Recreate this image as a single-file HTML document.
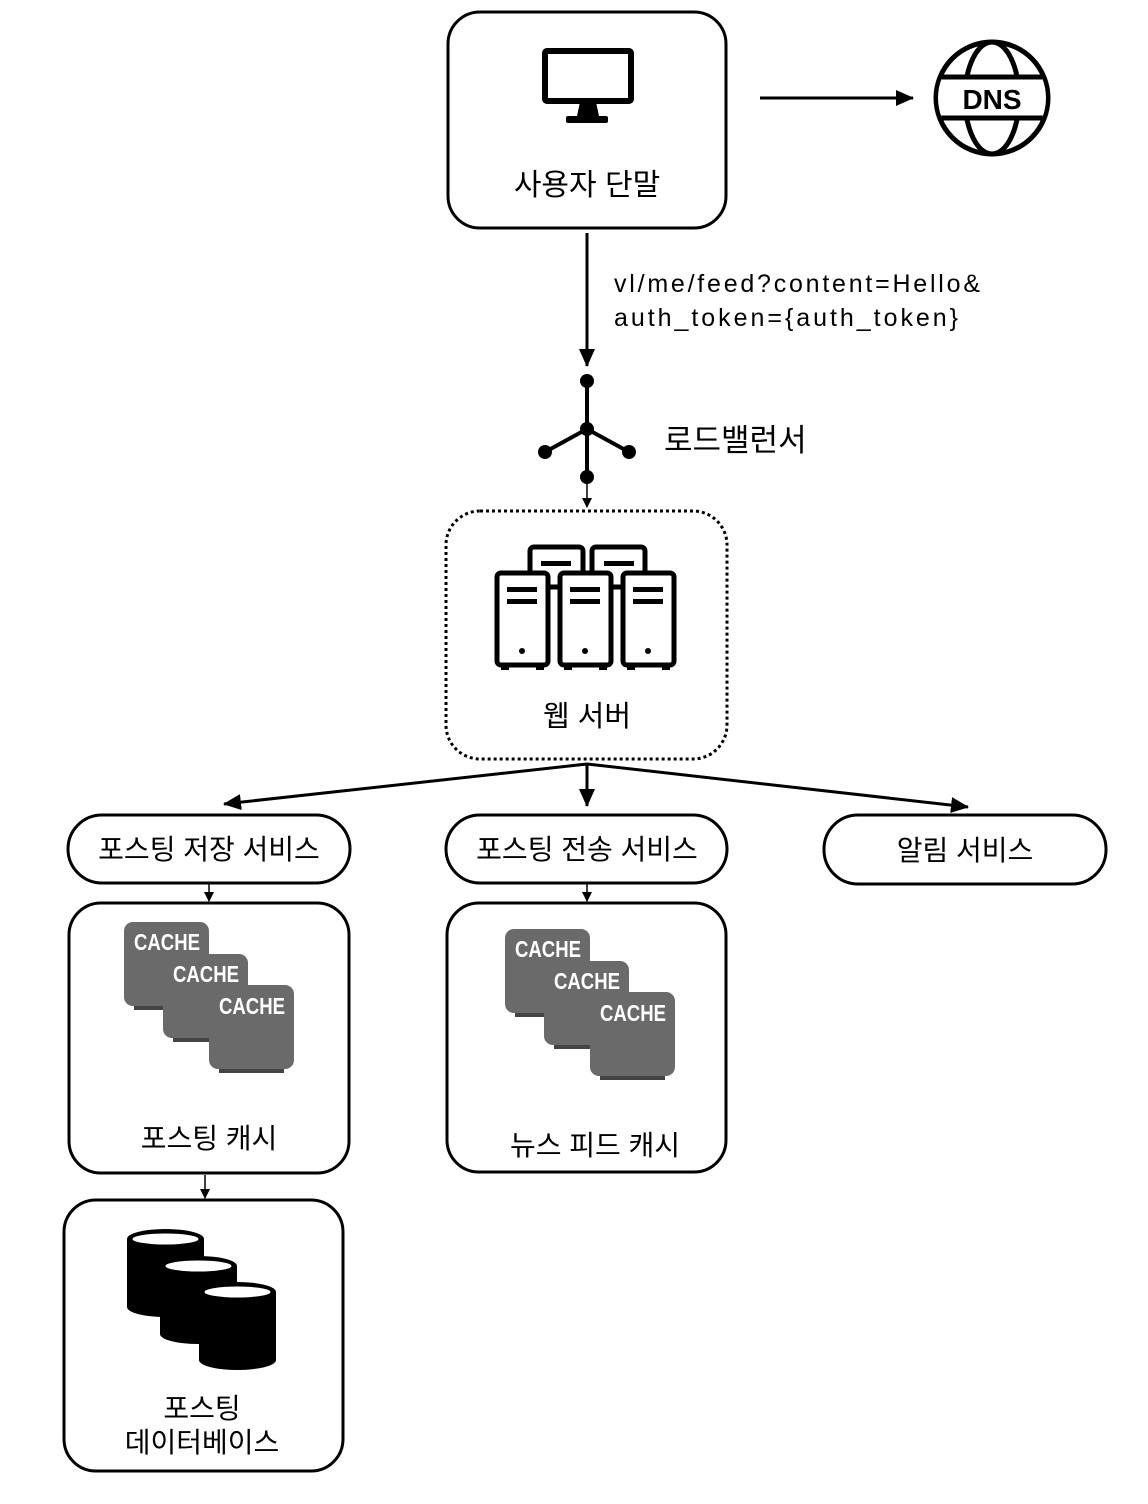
<!DOCTYPE html>
<html><head><meta charset="utf-8"><style>
html,body{margin:0;padding:0;background:#fff}
svg{display:block}
text{font-family:"Liberation Sans","Noto Sans CJK KR",sans-serif;fill:#000}
.cc{font-family:"Liberation Sans",sans-serif;font-size:23px;font-weight:bold;fill:#fff}
</style></head><body>
<svg width="1148" height="1504" viewBox="0 0 1148 1504" xmlns="http://www.w3.org/2000/svg">
<defs>
<marker id="ah" markerWidth="10" markerHeight="10" refX="9" refY="5" orient="auto" markerUnits="userSpaceOnUse"><path d="M0,0 L10,5 L0,10 z" fill="#000"/></marker>
<marker id="ahb" markerWidth="18" markerHeight="16" refX="17" refY="8" orient="auto" markerUnits="userSpaceOnUse"><path d="M0,0 L18,8 L0,16 z" fill="#000"/></marker>
<clipPath id="globe"><circle cx="992" cy="98" r="54"/></clipPath>
<g id="cache1">
<rect x="0" y="0" width="85" height="84" rx="9" fill="#6a6a6a"/>
<rect x="10" y="84" width="65" height="4" fill="#444"/>
</g>
<g id="caches">
<use href="#cache1" x="0" y="0"/>
<text class="cc" x="10" y="28" textLength="66" lengthAdjust="spacingAndGlyphs">CACHE</text>
<use href="#cache1" x="39" y="32"/>
<text class="cc" x="49" y="60" textLength="66" lengthAdjust="spacingAndGlyphs">CACHE</text>
<use href="#cache1" x="85" y="63"/>
<text class="cc" x="95" y="92" textLength="66" lengthAdjust="spacingAndGlyphs">CACHE</text>
</g>
<g id="cyl">
<rect x="0" y="9" width="77" height="68" fill="#000"/>
<ellipse cx="38.5" cy="77" rx="38.5" ry="10" fill="#000"/>
<ellipse cx="38.5" cy="9" rx="38.5" ry="10" fill="#000"/>
<ellipse cx="38.5" cy="9" rx="33" ry="5.5" fill="#fff"/>
</g>
<g id="tower">
<rect x="2" y="2" width="51" height="92" rx="4" fill="#fff" stroke="#000" stroke-width="5"/>
<rect x="12" y="16" width="30" height="5" fill="#000"/>
<rect x="12" y="28" width="30" height="5" fill="#000"/>
<circle cx="27" cy="80" r="3" fill="#000"/>
<rect x="6" y="94" width="8" height="5" fill="#000"/>
<rect x="41" y="94" width="8" height="5" fill="#000"/>
</g>
</defs>

<rect x="448" y="12" width="278" height="216" rx="32" fill="#fff" stroke="#000" stroke-width="3"/>
<rect x="545" y="51" width="86" height="50" fill="#fff" stroke="#000" stroke-width="6" rx="2"/>
<path d="M580,102 L596,102 L599,116 L577,116 z" fill="#000"/>
<rect x="566" y="116" width="42" height="7" rx="2" fill="#000"/>
<text x="587" y="195" font-size="30" text-anchor="middle">사용자 단말</text>

<line x1="760" y1="98" x2="913" y2="98" stroke="#000" stroke-width="3" marker-end="url(#ahb)"/>
<circle cx="992" cy="98" r="56" fill="#fff" stroke="#000" stroke-width="5"/>
<ellipse cx="992" cy="98" rx="27" ry="56" fill="none" stroke="#000" stroke-width="5"/>
<g clip-path="url(#globe)">
<rect x="930" y="77" width="124" height="41" fill="#fff" stroke="#000" stroke-width="5"/>
</g>
<text x="992" y="109" font-size="28" font-weight="bold" text-anchor="middle">DNS</text>

<line x1="587" y1="233" x2="587" y2="366" stroke="#000" stroke-width="3" marker-end="url(#ahb)"/>
<text x="614" y="292" font-size="25" textLength="366">vl/me/feed?content=Hello&amp;</text>
<text x="614" y="326" font-size="25" textLength="344">auth_token={auth_token}</text>

<g stroke="#000" stroke-width="4">
<line x1="587" y1="381" x2="587" y2="477"/>
<line x1="587" y1="429" x2="545" y2="452"/>
<line x1="587" y1="429" x2="629" y2="452"/>
</g>
<circle cx="587" cy="381" r="7" fill="#000"/>
<circle cx="587" cy="429" r="7" fill="#000"/>
<circle cx="545" cy="452" r="7" fill="#000"/>
<circle cx="629" cy="452" r="7" fill="#000"/>
<circle cx="587" cy="477" r="7" fill="#000"/>
<text x="664" y="451" font-size="31">로드밸런서</text>
<line x1="587" y1="484" x2="587" y2="507" stroke="#000" stroke-width="1.5" marker-end="url(#ah)"/>

<rect x="446" y="511" width="281" height="248" rx="34" fill="#fff" stroke="#000" stroke-width="3" stroke-dasharray="3,3"/>
<rect x="530" y="547" width="53" height="40" rx="4" fill="#fff" stroke="#000" stroke-width="5"/>
<rect x="592" y="547" width="53" height="40" rx="4" fill="#fff" stroke="#000" stroke-width="5"/>
<rect x="541" y="561" width="30" height="5" fill="#000"/>
<rect x="604" y="561" width="30" height="5" fill="#000"/>
<use href="#tower" x="495" y="571"/>
<use href="#tower" x="558" y="571"/>
<use href="#tower" x="621" y="571"/>
<text x="587" y="726" font-size="29" text-anchor="middle">웹 서버</text>

<g stroke="#000" stroke-width="3">
<line x1="587" y1="764" x2="587" y2="806" marker-end="url(#ahb)"/>
<line x1="587" y1="764" x2="224" y2="804" marker-end="url(#ahb)"/>
<line x1="587" y1="764" x2="968" y2="807" marker-end="url(#ahb)"/>
</g>

<rect x="68" y="815" width="282" height="68" rx="34" fill="#fff" stroke="#000" stroke-width="3"/>
<text x="209" y="859" font-size="28" text-anchor="middle">포스팅 저장 서비스</text>
<rect x="446" y="815" width="281" height="68" rx="34" fill="#fff" stroke="#000" stroke-width="3"/>
<text x="587" y="859" font-size="28" text-anchor="middle">포스팅 전송 서비스</text>
<rect x="824" y="815" width="282" height="69" rx="34" fill="#fff" stroke="#000" stroke-width="3"/>
<text x="965" y="860" font-size="28" text-anchor="middle">알림 서비스</text>

<line x1="209" y1="884" x2="209" y2="901" stroke="#000" stroke-width="1.5" marker-end="url(#ah)"/>
<line x1="587" y1="884" x2="587" y2="901" stroke="#000" stroke-width="1.5" marker-end="url(#ah)"/>

<rect x="69" y="903" width="280" height="270" rx="32" fill="#fff" stroke="#000" stroke-width="3"/>
<use href="#caches" x="124" y="922"/>
<text x="209" y="1148" font-size="28" text-anchor="middle">포스팅 캐시</text>

<rect x="447" y="903" width="279" height="269" rx="32" fill="#fff" stroke="#000" stroke-width="3"/>
<use href="#caches" x="505" y="929"/>
<text x="595" y="1155" font-size="28" text-anchor="middle">뉴스 피드 캐시</text>

<line x1="205" y1="1175" x2="205" y2="1198" stroke="#000" stroke-width="1.5" marker-end="url(#ah)"/>

<rect x="64" y="1200" width="279" height="271" rx="32" fill="#fff" stroke="#000" stroke-width="3"/>
<use href="#cyl" x="127" y="1230"/>
<use href="#cyl" x="160" y="1257"/>
<use href="#cyl" x="199" y="1283"/>
<text x="202" y="1418" font-size="28" text-anchor="middle">포스팅</text>
<text x="202" y="1452" font-size="28" text-anchor="middle">데이터베이스</text>
</svg>
</body></html>
